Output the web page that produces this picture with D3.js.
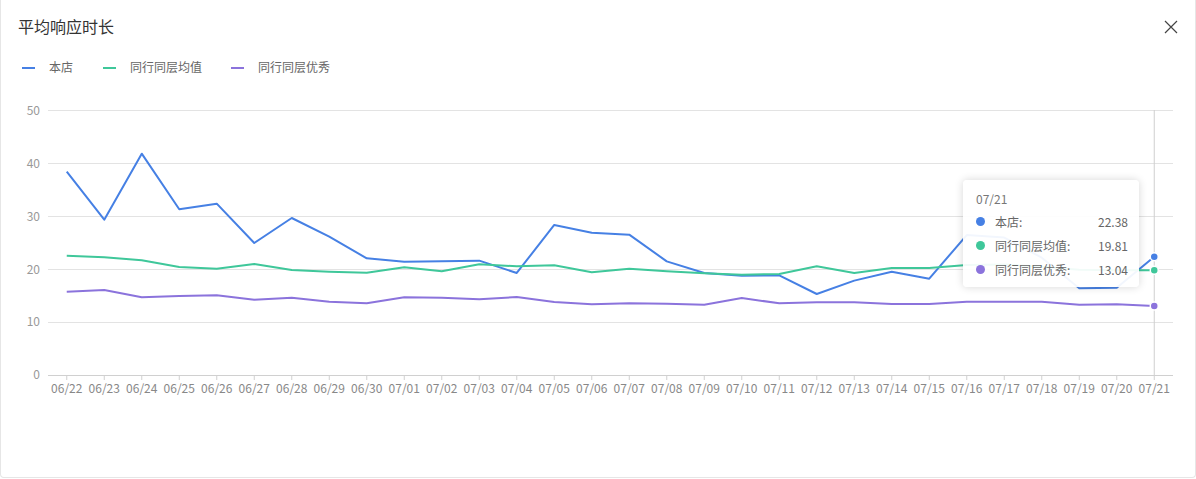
<!DOCTYPE html>
<html><head><meta charset="utf-8">
<script src="https://cdn.jsdelivr.net/npm/d3@7/dist/d3.min.js"></script>
<style>
html,body{margin:0;padding:0;background:#fff;}
body{width:1196px;height:479px;overflow:hidden;position:relative;font-family:"Noto Sans CJK SC","Noto Sans",sans-serif;}
#card{position:absolute;left:0;top:0;width:1194px;height:477px;border:1px solid #e6e6e6;border-top:none;border-radius:0 0 4px 4px;}
#tip{position:absolute;left:963px;top:180px;width:176px;height:107px;background:rgba(255,255,255,0.93);border-radius:4px;box-shadow:0 0 8px rgba(0,0,0,0.16);font-size:12px;color:#666;}
</style></head>
<body>
<div id="card"></div>
<svg id="chart" width="1196" height="479" style="position:absolute;left:0;top:0"></svg>
<div id="tip"></div>
<script>
const categories = ["06/22","06/23","06/24","06/25","06/26","06/27","06/28","06/29","06/30","07/01","07/02","07/03","07/04","07/05","07/06","07/07","07/08","07/09","07/10","07/11","07/12","07/13","07/14","07/15","07/16","07/17","07/18","07/19","07/20","07/21"];
const storeValues = [38.46,29.38,41.87,31.35,32.41,24.97,29.70,26.17,22.07,21.44,21.50,21.63,19.30,28.38,26.93,26.55,21.50,19.30,18.79,18.86,15.32,17.85,19.55,18.22,26.48,26.00,22.20,16.40,16.50,22.38];
const peerAvgValues = [22.57,22.26,21.70,20.43,20.11,21.00,19.86,19.54,19.35,20.37,19.62,20.94,20.56,20.75,19.42,20.11,19.62,19.24,18.98,19.10,20.56,19.30,20.24,20.24,20.80,20.90,20.50,19.90,19.80,19.81];
const peerTopValues = [15.77,16.08,14.69,14.95,15.07,14.25,14.63,13.87,13.56,14.69,14.63,14.31,14.76,13.81,13.37,13.56,13.50,13.31,14.57,13.56,13.75,13.75,13.43,13.43,13.87,13.87,13.87,13.31,13.37,13.04];
const seriesNames = ["本店","同行同层均值","同行同层优秀"];
const seriesColors = ["#4680e4","#3fc79a","#8b73dc"];
const yTicks = [0,10,20,30,40,50];
const title = "平均响应时长";
const hoverIndex = 29;

const allSeries = [storeValues, peerAvgValues, peerTopValues];
const svg = d3.select("#chart");
const font = '"Noto Sans CJK SC","Noto Sans",sans-serif';

// title
svg.append("text").attr("x",18).attr("y",33).attr("font-size",16).attr("fill","#333").attr("font-family",font).text(title);
// close icon
const cx=1171, cy=27;
svg.append("path").attr("d",`M${cx-6},${cy-6}L${cx+6},${cy+6}M${cx+6},${cy-6}L${cx-6},${cy+6}`).attr("stroke","#444").attr("stroke-width",1.2);

// legend
const legendX = [22,103,231];
seriesNames.forEach((n,i)=>{
  const g = svg.append("g").attr("transform",`translate(${legendX[i]},68)`);
  g.append("line").attr("x1",0).attr("x2",13).attr("y1",0).attr("y2",0).attr("stroke",seriesColors[i]).attr("stroke-width",2);
  g.append("text").attr("x",27).attr("y",4).attr("font-size",12).attr("fill","#666").attr("font-family",font).text(n);
});

const x = d3.scaleBand().domain(categories).range([48,1173]);
const y = d3.scaleLinear().domain([0,50]).range([375,110.7]);
const xc = d => x(d)+x.bandwidth()/2;

// grid
svg.append("g").selectAll("line").data(yTicks.filter(t=>t>0)).join("line")
  .attr("x1",48).attr("x2",1173).attr("y1",d=>y(d)).attr("y2",d=>y(d))
  .attr("stroke","#e3e3e3").attr("stroke-width",1).attr("shape-rendering","crispEdges");

// y axis labels
const yAxis = svg.append("g").attr("transform","translate(48,0)")
  .call(d3.axisLeft(y).tickValues(yTicks).tickSize(0).tickPadding(8));
yAxis.select(".domain").remove();
yAxis.selectAll("text").attr("font-size",12).attr("fill","#999").attr("font-family",font);

// x axis
const xAxis = svg.append("g").attr("transform","translate(0,375)")
  .call(d3.axisBottom(x).tickSize(5).tickPadding(4));
xAxis.select(".domain").attr("stroke","#d0d0d0").attr("d","M48,0.5H1173");
xAxis.selectAll(".tick line").attr("stroke","#d0d0d0");
xAxis.selectAll("text").attr("font-size",12).attr("fill","#888").attr("font-family",font);

// hover line
svg.append("line").attr("x1",xc(categories[hoverIndex])).attr("x2",xc(categories[hoverIndex]))
  .attr("y1",110).attr("y2",375).attr("stroke","#cfcfcf").attr("stroke-width",1);

// lines
const line = d3.line().x((d,i)=>xc(categories[i])).y(d=>y(d));
allSeries.forEach((vals,i)=>{
  svg.append("path").datum(vals).attr("d",line).attr("fill","none")
    .attr("stroke",seriesColors[i]).attr("stroke-width",2).attr("stroke-linejoin","round");
});
// hover points
allSeries.forEach((vals,i)=>{
  svg.append("circle").attr("cx",xc(categories[hoverIndex])).attr("cy",y(vals[hoverIndex])).attr("r",4)
    .attr("fill",seriesColors[i]).attr("stroke","#fff").attr("stroke-width",1.5);
});

// tooltip
const tip = d3.select("#tip");
tip.append("div").style("position","absolute").style("left","13px").style("top","10px").style("color","#777").text(categories[hoverIndex]);
seriesNames.forEach((n,i)=>{
  const row = tip.append("div").style("position","absolute").style("left","13px").style("top",(33+i*24)+"px")
    .style("width","152px").style("height","18px");
  row.append("span").style("position","absolute").style("left","0px").style("top","4px")
    .style("width","9px").style("height","9px").style("border-radius","50%").style("background",seriesColors[i]);
  row.append("span").style("position","absolute").style("left","19px").style("top","0px").text(n+":");
  row.append("span").style("position","absolute").style("right","0px").style("top","0px").text(allSeries[i][hoverIndex].toFixed(2));
});
</script>
</body></html>
